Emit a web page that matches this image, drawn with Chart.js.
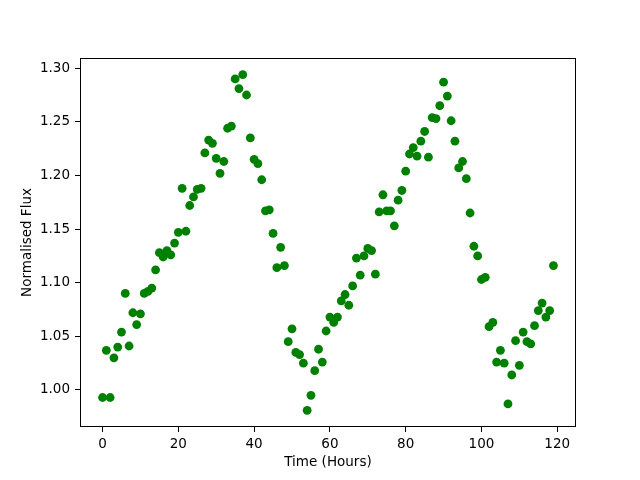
<!DOCTYPE html>
<html>
<head>
<meta charset="utf-8">
<script src="https://cdn.jsdelivr.net/npm/chart.js@4"></script>
<style>
html,body{margin:0;padding:0;background:#fff;}
#wrap{width:640px;height:480px;}
</style>
</head>
<body>
<div id="wrap"><canvas id="c" width="640" height="480"></canvas></div>
<script>
const hours = [];
for (let i = 0; i < 120; i++) hours.push(i);
const flux = [
0.993,1.037,0.993,1.030,1.040,1.054,1.090,1.041,1.072,1.061,
1.071,1.090,1.092,1.095,1.112,1.128,1.124,1.130,1.126,1.137,
1.147,1.188,1.148,1.172,1.180,1.187,1.188,1.221,1.233,1.230,
1.216,1.202,1.213,1.244,1.246,1.290,1.281,1.294,1.275,1.235,
1.215,1.211,1.196,1.167,1.168,1.146,1.114,1.133,1.116,1.045,
1.057,1.035,1.033,1.025,0.981,0.995,1.018,1.038,1.026,1.055,
1.068,1.063,1.068,1.083,1.089,1.079,1.097,1.123,1.107,1.125,
1.132,1.130,1.108,1.166,1.182,1.167,1.167,1.153,1.177,1.186,
1.204,1.220,1.226,1.218,1.232,1.241,1.217,1.254,1.253,1.265,
1.287,1.274,1.251,1.232,1.207,1.213,1.197,1.165,1.134,1.125,
1.103,1.105,1.059,1.063,1.026,1.037,1.025,0.987,1.014,1.046,
1.023,1.054,1.045,1.043,1.060,1.074,1.081,1.068,1.074,1.116
];
const xTicks = [0, 20, 40, 60, 80, 100, 120];
const yTicks = [1.00, 1.05, 1.10, 1.15, 1.20, 1.25, 1.30];

const points = hours.map((h, i) => ({x: h, y: flux[i]}));

const frame = {
  id: 'frame',
  afterDraw(chart) {
    const a = chart.chartArea, ctx = chart.ctx;
    ctx.save();
    ctx.strokeStyle = '#000';
    ctx.lineWidth = 1;
    ctx.strokeRect(Math.round(a.left) + 0.5, Math.round(a.top) + 0.5,
      Math.round(a.right - a.left) - 1, Math.round(a.bottom - a.top) - 1);
    ctx.restore();
  }
};

const font = {family: 'DejaVu Sans', size: 13.5};

new Chart(document.getElementById('c'), {
  type: 'scatter',
  data: {
    datasets: [{
      data: points,
      backgroundColor: '#008000',
      borderColor: '#008000',
      pointRadius: 4.4,
      pointHoverRadius: 4.4,
      borderWidth: 0
    }]
  },
  options: {
    responsive: false,
    animation: false,
    events: [],
    layout: {padding: {left: 0, top: 58, right: 64, bottom: 0}},
    plugins: {legend: {display: false}, tooltip: {enabled: false}},
    scales: {
      x: {
        type: 'linear',
        min: -5.95, max: 124.95,
        afterBuildTicks: s => { s.ticks = xTicks.map(v => ({value: v})); },
        afterFit: s => { s.height = 53; },
        grid: {drawOnChartArea: false, drawTicks: true, tickLength: 5, color: '#000', tickColor: '#000'},
        border: {display: false},
        ticks: {color: '#000', font: font, padding: 4, maxRotation: 0, callback: v => String(v)},
        title: {display: true, text: 'Time (Hours)', color: '#000', font: font, padding: {top: 0, bottom: 9}}
      },
      y: {
        type: 'linear',
        min: 0.9655, max: 1.3095,
        afterBuildTicks: s => { s.ticks = yTicks.map(v => ({value: v})); },
        afterFit: s => { s.width = 80; },
        grid: {drawOnChartArea: false, drawTicks: true, tickLength: 5, color: '#000', tickColor: '#000'},
        border: {display: false},
        ticks: {color: '#000', font: font, padding: 5, callback: v => v.toFixed(2)},
        title: {display: true, text: 'Normalised Flux', color: '#000', font: font, padding: {top: 19, bottom: 0}}
      }
    }
  },
  plugins: [frame]
});
</script>
</body>
</html>
